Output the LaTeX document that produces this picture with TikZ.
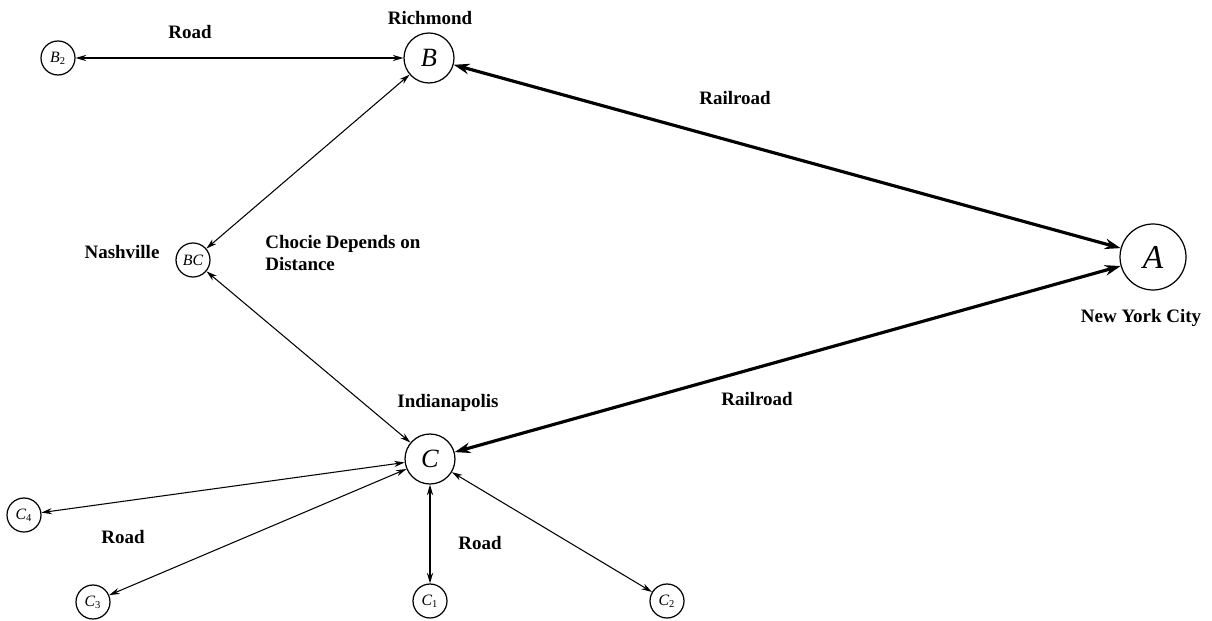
\documentclass[tikz,border=0pt]{standalone}
\usepackage{fontspec}
\setmainfont{Liberation Serif}
\usetikzlibrary{arrows.meta}

\begin{document}
\begin{tikzpicture}[x=0.02cm, y=-0.02cm,
  every node/.style={font=\fontsize{10.8}{13}\selectfont\bfseries},
  city/.style={circle, draw, line width=0.7pt, inner sep=0pt, minimum size=1cm,
    font=\fontsize{15}{15}\selectfont\itshape},
  town/.style={city, minimum size=0.68cm, font=\fontsize{9}{9}\selectfont\itshape},
  road/.style={line width=0.6pt, {Stealth[length=6pt,width=3.5pt]}-{Stealth[length=6pt,width=3.5pt]}},
  rail/.style={line width=1.8pt, {Stealth[length=9pt,width=6pt]}-{Stealth[length=9pt,width=6pt]}}]
\useasboundingbox (0,0) rectangle (1212,621);
% cities
\node[city] (B) at (429,58) {B};
\node[city, minimum size=1.32cm, font=\fontsize{19}{19}\selectfont\itshape] (A) at (1153,257) {A};
\node[city] (C) at (430,459) {C};
\node[town] (BC) at (193,260) {BC};
\node[town] (B2) at (58,58) {B\textsubscript{\upshape 2}};
\node[town] (C1) at (430,601) {C\textsubscript{\upshape 1}};
\node[town] (C2) at (667,601) {C\textsubscript{\upshape 2}};
\node[town] (C3) at (93,602) {C\textsubscript{\upshape 3}};
\node[town] (C4) at (24,515) {C\textsubscript{\upshape 4}};
% names
\node (rich) at (430,18) {Richmond};
\node (nash) at (122,252) {Nashville};
\node (nyc) at (1141,318) {New York City};
\node (ind) at (448,403) {Indianapolis};
\node[anchor=west, align=left, inner sep=0pt] (choice) at (265,253) {Chocie Depends on\\Distance};
% connections
\draw[road] (B2) -- (B);
\draw[road] (B) -- (BC);
\draw[road] (BC) -- (C);
\draw[rail] (B) -- (A);
\draw[rail] (C) -- (A);
\draw[road] (C) -- (C4);
\draw[road] (C) -- (C3);
\draw[road, line width=1pt] (C) -- (C1);
\draw[road] (C) -- (C2);
% link labels
\node (roadb) at (190,32) {Road};
\node (railb) at (735,98) {Railroad};
\node (railc) at (757,399) {Railroad};
\node (roadl) at (123,537) {Road};
\node (roadc) at (480,543) {Road};
\end{tikzpicture}
\end{document}
